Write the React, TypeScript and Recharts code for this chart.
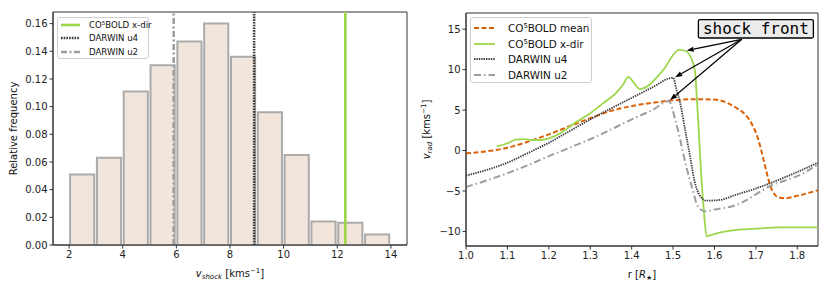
import React from "react";
import {
  ComposedChart,
  LineChart,
  Bar,
  Line,
  XAxis,
  YAxis,
  ReferenceLine,
  ReferenceDot,
  ReferenceArea,
  Legend,
  Label,
} from "recharts";

// ---- left panel: shock velocity histogram ----
const binCenters = [2.5, 3.5, 4.5, 5.5, 6.5, 7.5, 8.5, 9.5, 10.5, 11.5, 12.5, 13.5];
const binFreq = [0.051, 0.063, 0.111, 0.13, 0.147, 0.16, 0.136, 0.096, 0.065, 0.017, 0.016, 0.0075];
const shockCo5bold = 12.3;
const shockU4 = 8.9;
const shockU2 = 5.9;
const histTicksX = [2, 4, 6, 8, 10, 12, 14];
const histTicksY = [0, 0.02, 0.04, 0.06, 0.08, 0.1, 0.12, 0.14, 0.16];

// ---- right panel: radial velocity profiles ----
const meanR = [1.0, 1.05, 1.1, 1.15, 1.2, 1.25, 1.3, 1.35, 1.4, 1.45, 1.5, 1.55, 1.6, 1.63, 1.655, 1.675, 1.69, 1.705, 1.715, 1.725, 1.735, 1.745, 1.755, 1.77, 1.8, 1.85];
const meanV = [-0.35, -0.1, 0.35, 1.1, 2.0, 3.0, 4.0, 4.9, 5.5, 5.9, 6.2, 6.35, 6.3, 5.9, 5.2, 4.4, 3.3, 1.5, -0.4, -2.5, -4.4, -5.4, -5.8, -5.9, -5.6, -4.9];

const xdirR = [1.075, 1.1, 1.12, 1.14, 1.16, 1.18, 1.2, 1.23, 1.26, 1.3, 1.33, 1.36, 1.38, 1.392, 1.405, 1.42, 1.44, 1.46, 1.48, 1.5, 1.515, 1.53, 1.543, 1.553, 1.558, 1.563, 1.568, 1.574, 1.581, 1.6, 1.64, 1.7, 1.76, 1.85];
const xdirV = [0.5, 0.9, 1.35, 1.4, 1.3, 1.3, 1.5, 2.2, 3.3, 4.6, 5.8, 7.0, 8.2, 9.1, 8.4, 7.6, 8.0, 9.0, 10.2, 11.8, 12.45, 12.3, 11.5, 9.8, 6.0, 1.5, -3.0, -7.2, -10.6, -10.3, -9.9, -9.65, -9.5, -9.5];

const u4R = [1.0, 1.05, 1.1, 1.15, 1.2, 1.25, 1.3, 1.35, 1.4, 1.45, 1.5, 1.508, 1.517, 1.529, 1.541, 1.552, 1.565, 1.58, 1.614, 1.65, 1.694, 1.775, 1.85];
const u4V = [-3.1, -2.4, -1.5, -0.3, 0.95, 2.4, 3.85, 5.2, 6.5, 7.8, 9.0, 7.6, 5.9, 2.6, -0.7, -3.8, -5.6, -6.2, -6.1, -5.5, -4.8, -3.2, -1.5];

const u2R = [1.0, 1.05, 1.1, 1.15, 1.2, 1.25, 1.3, 1.35, 1.4, 1.45, 1.49, 1.505, 1.517, 1.525, 1.545, 1.561, 1.577, 1.6, 1.654, 1.734, 1.815, 1.85];
const u2V = [-4.5, -3.7, -2.8, -1.8, -0.7, 0.35, 1.4, 2.6, 3.85, 5.0, 6.1, 3.85, 1.4, -0.5, -4.4, -7.0, -7.5, -7.3, -6.7, -4.4, -2.8, -1.7];

const profTicksX = [1.0, 1.1, 1.2, 1.3, 1.4, 1.5, 1.6, 1.7, 1.8];
const profTicksY = [-10, -5, 0, 5, 10, 15];

// annotation "shock front": box centre, arrow tail and arrow tips (data coords)
const noteBox = { r: 1.7, v: 15.05 };
const arrowTail = { r: 1.666, v: 13.75 };
const arrowTipR = [1.533, 1.505, 1.493];
const arrowTipV = [12.35, 9.05, 6.25];

const zip = (rs: number[], vs: number[]) => rs.map((r, i) => ({ r, v: vs[i] }));
const histData = binCenters.map((x, i) => ({ x, f: binFreq[i] }));

const FONT = "DejaVu Sans, sans-serif";
const TICK = { fontSize: 10, fill: "#222", fontFamily: FONT };
const minus = (v: number) => (v < 0 ? "\u2212" + Math.abs(v) : String(v));

const GREEN = "#9dd64a";
const ORANGE = "#dc6209";
const DARK = "#3a3a3a";
const GREY = "#9e9e9e";

type Item = { label: React.ReactNode; color: string; dash?: string; width: number };

const sup5 = (rest: string) => (
  <span>
    CO<sup style={{ fontSize: "0.65em", verticalAlign: "0.55em", lineHeight: 0 }}>5</sup>BOLD {rest}
  </span>
);

const leftItems: Item[] = [
  { label: sup5("x-dir"), color: GREEN, width: 2.6 },
  { label: "DARWIN u4", color: DARK, dash: "1.6 1.1", width: 2.6 },
  { label: "DARWIN u2", color: GREY, dash: "6 2.5 2 2.5", width: 2.6 },
];

const rightItems: Item[] = [
  { label: sup5("mean"), color: ORANGE, dash: "5 2.5", width: 2 },
  { label: sup5("x-dir"), color: GREEN, width: 1.8 },
  { label: "DARWIN u4", color: DARK, dash: "1.4 1", width: 1.8 },
  { label: "DARWIN u2", color: GREY, dash: "7 3 1.5 3", width: 2 },
];

function makeLegend(items: Item[], rowGap: number, top0: number, sample: number, textX: number, fs: number) {
  return () => (
    <div
      style={{
        position: "relative",
        width: "100%",
        height: "100%",
        boxSizing: "border-box",
        border: "1px solid #cfcfcf",
        borderRadius: 3,
        background: "rgba(255,255,255,0.85)",
        fontFamily: FONT,
        fontSize: fs,
        color: "#111",
      }}
    >
      {items.map((it, i) => (
        <div
          key={i}
          style={{ position: "absolute", left: 3, top: top0 + i * rowGap - 7, height: 14, display: "flex", alignItems: "center" }}
        >
          <svg width={sample} height={8} style={{ display: "block" }}>
            <line x1={0} y1={4} x2={sample} y2={4} stroke={it.color} strokeWidth={it.width} strokeDasharray={it.dash} />
          </svg>
          <span style={{ position: "absolute", left: textX, whiteSpace: "nowrap" }}>{it.label}</span>
        </div>
      ))}
    </div>
  );
}

const HistXLabel = (p: any) => {
  const vb = p.viewBox;
  return (
    <text x={vb.x + vb.width / 2} y={vb.y + 32} textAnchor="middle" fontFamily={FONT} fontSize={10} fill="#111">
      <tspan fontStyle="italic">v</tspan>
      <tspan fontStyle="italic" fontSize={7} dy={2}>shock</tspan>
      <tspan dy={-2}> [kms</tspan>
      <tspan fontSize={7} dy={-4}>{"\u22121"}</tspan>
      <tspan dy={4}>]</tspan>
    </text>
  );
};

const HistYLabel = (p: any) => {
  const vb = p.viewBox;
  const cx = 16.5;
  const cy = vb.y + vb.height / 2;
  return (
    <text x={cx} y={cy} transform={`rotate(-90, ${cx}, ${cy})`} textAnchor="middle" fontFamily={FONT} fontSize={10} fill="#111">
      Relative frequency
    </text>
  );
};

const ProfXLabel = (p: any) => {
  const vb = p.viewBox;
  return (
    <text x={vb.x + vb.width / 2} y={vb.y + 32} textAnchor="middle" fontFamily={FONT} fontSize={10} fill="#111">
      <tspan>r [</tspan>
      <tspan fontStyle="italic">R</tspan>
      <tspan fontSize={7} dy={2}>{"\u2605"}</tspan>
      <tspan dy={-2}>]</tspan>
    </text>
  );
};

const ProfYLabel = (p: any) => {
  const vb = p.viewBox;
  const cx = 15;
  const cy = vb.y + vb.height / 2;
  return (
    <text x={cx} y={cy} transform={`rotate(-90, ${cx}, ${cy})`} textAnchor="middle" fontFamily={FONT} fontSize={10} fill="#111">
      <tspan fontStyle="italic">v</tspan>
      <tspan fontStyle="italic" fontSize={7} dy={2}>rad</tspan>
      <tspan dy={-2}> [kms</tspan>
      <tspan fontSize={7} dy={-4}>{"\u22121"}</tspan>
      <tspan dy={4}>]</tspan>
    </text>
  );
};

const Arrow = (p: any) => {
  const { x1, y1, x2, y2 } = p;
  const a = Math.atan2(y2 - y1, x2 - x1);
  const L = 7;
  const W = 2.6;
  const bx = x2 - L * Math.cos(a);
  const by = y2 - L * Math.sin(a);
  const pts = `${x2},${y2} ${bx - W * Math.sin(a)},${by + W * Math.cos(a)} ${bx + W * Math.sin(a)},${by - W * Math.cos(a)}`;
  return (
    <g>
      <line x1={x1} y1={y1} x2={bx} y2={by} stroke="#000" strokeWidth={1.2} />
      <polygon points={pts} fill="#000" />
    </g>
  );
};

const NoteBox = (p: any) => {
  const { cx, cy } = p;
  return (
    <g>
      <rect x={cx - 57.5} y={cy - 9.2} width={115} height={18.4} fill="#ececec" stroke="#000" strokeWidth={1.3} rx={1.5} />
      <text x={cx} y={cy + 5} textAnchor="middle" fontFamily="DejaVu Sans Mono, monospace" fontSize={16} fill="#000">
        shock front
      </text>
    </g>
  );
};

const HIST_DOMAIN: [number, number] = [1.4, 14.6];
const HIST_Y: [number, number] = [0, 0.1684];
const PROF_X: [number, number] = [1.0, 1.85];
const PROF_Y: [number, number] = [-11.8, 17];
const HIST_PLOT_W = 415 - 8 - 8 - 45;

function Histogram() {
  const barW = HIST_PLOT_W / (HIST_DOMAIN[1] - HIST_DOMAIN[0]);
  return (
    <ComposedChart width={415} height={287} data={histData} margin={{ top: 12, right: 8, left: 8, bottom: 0 }}>
      <XAxis
        dataKey="x"
        type="number"
        domain={HIST_DOMAIN}
        ticks={histTicksX}
        allowDataOverflow
        height={42}
        tick={TICK}
        tickSize={3.5}
        tickLine={{ stroke: "#333" }}
        axisLine={{ stroke: "#333" }}
      >
        <Label content={HistXLabel} />
      </XAxis>
      <YAxis
        domain={HIST_Y}
        ticks={histTicksY}
        allowDataOverflow
        width={45}
        tick={TICK}
        tickSize={3.5}
        tickFormatter={(v: number) => v.toFixed(2)}
        tickLine={{ stroke: "#333" }}
        axisLine={{ stroke: "#333" }}
      >
        <Label content={HistYLabel} />
      </YAxis>
      <Bar dataKey="f" fill="#f2e6dc" stroke="#ababab" strokeWidth={2} barSize={barW} isAnimationActive={false} />
      <ReferenceLine x={shockU2} stroke={GREY} strokeWidth={2.6} strokeDasharray="6 2.5 2 2.5" />
      <ReferenceLine x={shockU4} stroke={DARK} strokeWidth={2.6} strokeDasharray="1.6 1.1" />
      <ReferenceLine x={shockCo5bold} stroke={GREEN} strokeWidth={2.6} />
      <ReferenceArea x1={HIST_DOMAIN[0]} x2={HIST_DOMAIN[1]} y1={HIST_Y[0]} y2={HIST_Y[1]} fill="none" stroke="#333" strokeWidth={1} ifOverflow="visible" />
      <Legend
        layout="vertical"
        align="center"
        verticalAlign="middle"
        wrapperStyle={{ position: "absolute", left: 57, top: 17, width: 92, height: 42 }}
        content={makeLegend(leftItems, 13.3, 7, 19, 28, 8.6)}
      />
    </ComposedChart>
  );
}

function Profiles() {
  return (
    <LineChart width={415} height={287} margin={{ top: 13, right: 12, left: 8, bottom: 0 }}>
      <XAxis
        dataKey="r"
        type="number"
        domain={PROF_X}
        ticks={profTicksX}
        allowDataOverflow
        height={41}
        tick={TICK}
        tickSize={3.5}
        tickFormatter={(v: number) => v.toFixed(1)}
        tickLine={{ stroke: "#333" }}
        axisLine={{ stroke: "#333" }}
      >
        <Label content={ProfXLabel} />
      </XAxis>
      <YAxis
        type="number"
        domain={PROF_Y}
        ticks={profTicksY}
        allowDataOverflow
        width={43}
        tick={TICK}
        tickSize={3.5}
        tickFormatter={minus}
        tickLine={{ stroke: "#333" }}
        axisLine={{ stroke: "#333" }}
      >
        <Label content={ProfYLabel} />
      </YAxis>
      <Line data={zip(meanR, meanV)} dataKey="v" type="monotone" stroke={ORANGE} strokeWidth={2} strokeDasharray="5 2.5" dot={false} isAnimationActive={false} />
      <Line data={zip(xdirR, xdirV)} dataKey="v" type="monotone" stroke={GREEN} strokeWidth={1.8} dot={false} isAnimationActive={false} />
      <Line data={zip(u4R, u4V)} dataKey="v" type="monotone" stroke={DARK} strokeWidth={1.8} strokeDasharray="1.4 1" dot={false} isAnimationActive={false} />
      <Line data={zip(u2R, u2V)} dataKey="v" type="monotone" stroke={GREY} strokeWidth={2} strokeDasharray="7 3 1.5 3" dot={false} isAnimationActive={false} />
      {arrowTipR.map((r, i) => (
        <ReferenceLine
          key={i}
          segment={[
            { x: arrowTail.r, y: arrowTail.v },
            { x: r, y: arrowTipV[i] },
          ]}
          shape={Arrow}
        />
      ))}
      <ReferenceDot x={noteBox.r} y={noteBox.v} r={0} shape={NoteBox} />
      <ReferenceArea x1={PROF_X[0]} x2={PROF_X[1]} y1={PROF_Y[0]} y2={PROF_Y[1]} fill="none" stroke="#333" strokeWidth={1} ifOverflow="visible" />
      <Legend
        layout="vertical"
        align="center"
        verticalAlign="middle"
        wrapperStyle={{ position: "absolute", left: 55, top: 17, width: 122, height: 66 }}
        content={makeLegend(rightItems, 15.8, 9.7, 21, 34, 10.4)}
      />
    </LineChart>
  );
}

export default function App() {
  return (
    <div style={{ position: "absolute", left: 0, top: 0, width: 830, height: 287, background: "#fff" }}>
      <div style={{ position: "absolute", left: 0, top: 0 }}>
        <Histogram />
      </div>
      <div style={{ position: "absolute", left: 415, top: 0 }}>
        <Profiles />
      </div>
    </div>
  );
}
